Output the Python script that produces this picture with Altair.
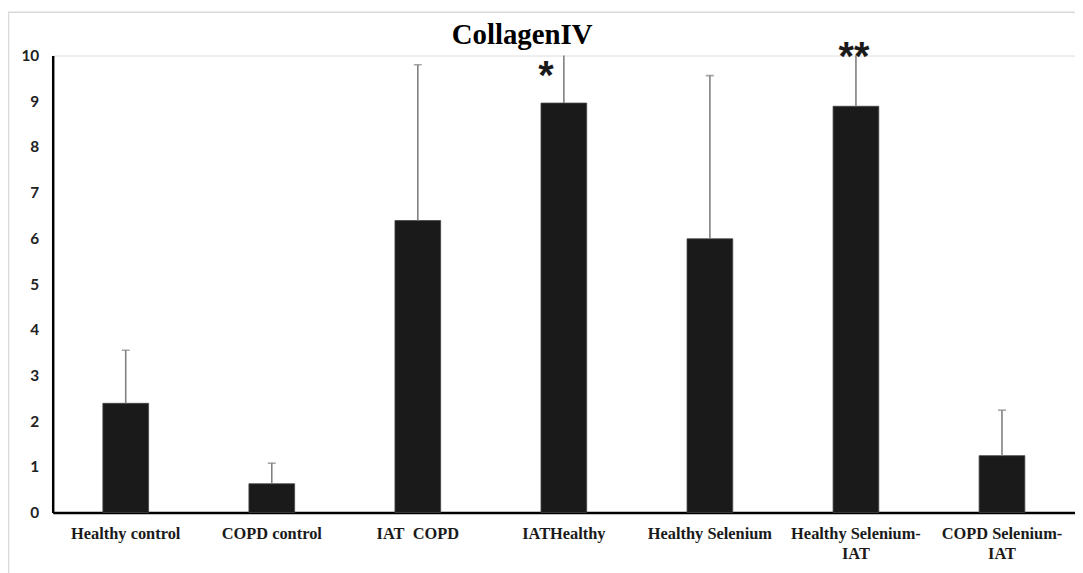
import altair as alt
import pandas as pd

categories = ["Healthy control", "COPD control", "IAT\u00a0\u00a0COPD", "IATHealthy",
              "Healthy Selenium", "Healthy Selenium-\nIAT", "COPD Selenium-\nIAT"]
means = [2.39, 0.63, 6.39, 8.96, 5.99, 8.89, 1.245]
uppers = [3.55, 1.08, 9.80, 11.0, 9.56, 10.9, 2.24]
star_labels = ["*", "**"]
star_cats = ["IATHealthy", "Healthy Selenium-\nIAT"]
star_y = [9.59, 10.0]
star_dx = [-18, -2]

df = pd.DataFrame({"cat": categories, "mean": means, "upper": uppers})
stars = pd.DataFrame({"cat": star_cats, "label": star_labels, "y": star_y, "dx": star_dx})

xenc = alt.X("cat:N", sort=categories,
             scale=alt.Scale(paddingInner=0.687, paddingOuter=0.3435),
             axis=alt.Axis(title=None, labelAngle=0, ticks=False,
                           labelFont="Liberation Serif", labelFontWeight="bold",
                           labelFontSize=16.5, labelColor="#1a1a1a", labelPadding=13,
                           labelLineHeight=20, labelLimit=300,
                           labelExpr="split(datum.label, '\\n')",
                           domainColor="#000000", domainWidth=2.5))
yscale = alt.Scale(domain=[0, 10], nice=False)
yenc = alt.Y("mean:Q", scale=yscale,
             axis=alt.Axis(title=None, values=list(range(0, 11)), ticks=False, grid=False,
                           labelFont="Lato", labelFontWeight="bold", labelFontSize=15.5,
                           labelColor="#222222", labelPadding=14,
                           domainColor="#000000", domainWidth=2.5))

border = alt.Chart(alt.Data(values=[{"a": 1}])).mark_rect(
    fillOpacity=0, stroke="#d9d9d9", strokeWidth=1.5, clip=False
).encode(x=alt.value(-44.5), x2=alt.value(1300), y=alt.value(-43.5), y2=alt.value(800))

bars = alt.Chart(df).mark_bar(color="#1a1a1a", stroke="#444444", strokeWidth=0.8).encode(
    x=xenc, y=yenc)

err = alt.Chart(df).mark_rule(color="#808080", strokeWidth=1.6, clip=True).encode(
    x=alt.X("cat:N", sort=categories), y=alt.Y("mean:Q", scale=yscale), y2="upper:Q")

caps = alt.Chart(df).mark_tick(color="#808080", thickness=1.6, size=8, clip=True).encode(
    x=alt.X("cat:N", sort=categories), y=alt.Y("upper:Q", scale=yscale))

s1 = alt.Chart(stars[stars["label"] == "*"]).mark_text(
    font="Liberation Sans", fontWeight="bold", fontSize=40, baseline="alphabetic",
    dy=15, dx=star_dx[0], color="#1a1a1a").encode(
    x=alt.X("cat:N", sort=categories), y=alt.Y("y:Q", scale=yscale), text="label:N")
s2 = alt.Chart(stars[stars["label"] == "**"]).mark_text(
    font="Liberation Sans", fontWeight="bold", fontSize=40, baseline="alphabetic",
    dy=15, dx=star_dx[1], color="#1a1a1a").encode(
    x=alt.X("cat:N", sort=categories), y=alt.Y("y:Q", scale=yscale), text="label:N")

chart = alt.layer(border, bars, err, caps, s1, s2).properties(
    width=1029, height=460,
    title=alt.TitleParams("CollagenIV", font="Liberation Serif", fontWeight="bold",
                          fontSize=29, color="#000000", anchor="middle", dx=-42,
                          baseline="alphabetic", offset=-62),
    autosize=alt.AutoSizeParams(type="none"),
    padding={"left": 45, "top": 46, "right": 0, "bottom": 59},
).configure_view(stroke=None).configure(background="white")

chart.save("out.html", embed_options={"renderer": "svg", "actions": False})
